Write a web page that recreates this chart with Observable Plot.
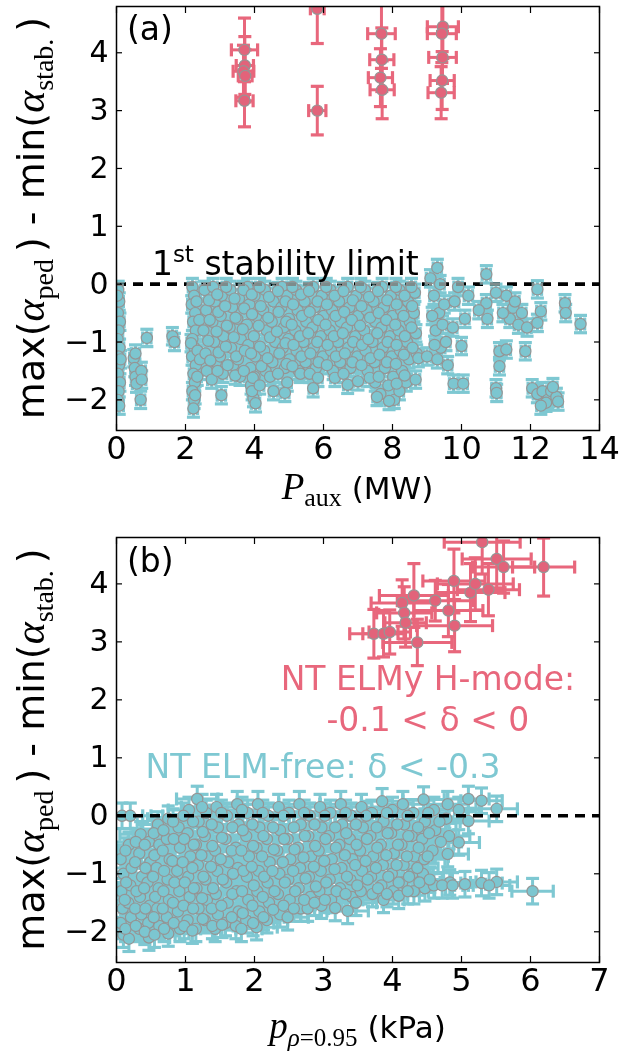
<!DOCTYPE html>
<html><head><meta charset="utf-8">
<script src="https://cdn.jsdelivr.net/npm/d3@7"></script>
<script src="https://cdn.jsdelivr.net/npm/@observablehq/plot@0.6"></script>
<style>body{margin:0;background:#fff;} #chart{width:621px;height:1055px;overflow:hidden;} #chart svg{display:block;}</style>
</head><body><div id="chart"></div>
<script>
// ---------- data ----------
const xTicksA = [0, 2, 4, 6, 8, 10, 12, 14];
const xTicksB = [0, 1, 2, 3, 4, 5, 6, 7];
const yTicks = [-2, -1, 0, 1, 2, 3, 4];

// Panel (a): NT ELMy H-mode (red)
const redAX = [3.71, 3.72, 3.68, 3.73, 3.71, 5.82, 5.82, 7.68, 7.69, 7.65, 7.70, 9.46, 9.43, 9.45, 9.44, 9.41];
const redAY = [4.05, 3.78, 3.68, 3.60, 3.17, 4.76, 3.00, 4.33, 3.88, 3.57, 3.36, 4.45, 4.33, 3.92, 3.52, 3.31];
const redAXErr = [0.38, 0.25, 0.30, 0.20, 0.25, 0.20, 0.25, 0.40, 0.35, 0.35, 0.35, 0.45, 0.42, 0.40, 0.35, 0.38];
const redAYErr = [0.55, 0.50, 0.45, 0.45, 0.45, 0.60, 0.42, 0.60, 0.55, 0.50, 0.50, 0.55, 0.50, 0.45, 0.50, 0.45];

// Panel (a): NT ELM-free (cyan), [Paux, value]
const cyanAStrip0 = [[0.05,-0.1],[0.08,-0.3],[0.04,-0.5],[0.1,-0.65],[0.06,-0.8],[0.03,-0.95],[0.09,-1.1],[0.05,-1.25],[0.07,-1.4],[0.04,-1.55],[0.1,-1.7],[0.06,-1.85],[0.03,-2.0],[0.08,-2.1],[0.12,-1.3],[0.02,-0.2]];
const cyanALowP = [[0.5,-1.28],[0.53,-1.45],[0.55,-1.6],[0.58,-1.72],[0.72,-1.5],[0.73,-1.65],[0.7,-2.0],[0.88,-0.93],[0.55,-1.2],[1.62,-0.9],[1.68,-1.0]];
const cyanAStrip2 = [[2.2,-0.05],[2.25,-0.2],[2.18,-0.35],[2.28,-0.5],[2.22,-0.65],[2.3,-0.8],[2.2,-0.95],[2.26,-1.1],[2.19,-1.25],[2.3,-1.4],[2.23,-1.55],[2.27,-1.7],[2.2,-1.85],[2.25,-2.0],[2.23,-2.15],[2.32,-0.3],[2.16,-1.02],[2.34,-1.6],[2.28,-1.92],[2.35,-1.15],[2.4,-0.62],[2.42,-1.3]];
const cyanAMain = [[2.55,-0.1],[2.6,-0.45],[2.52,-0.8],[2.58,-1.2],[2.62,-1.5],
[2.8,-0.05],[2.85,-0.3],[2.78,-0.65],[2.83,-1.0],[2.88,-1.35],[2.76,-1.65],
[3.05,-0.2],[3.02,-0.55],[3.1,-0.9],[3.0,-1.25],[3.08,-1.55],[3.04,-1.92],
[3.3,-0.1],[3.35,-0.4],[3.28,-0.75],[3.32,-1.1],[3.38,-1.4],
[3.55,-0.25],[3.5,-0.6],[3.6,-0.95],[3.52,-1.3],[3.58,-1.6],
[3.8,-0.05],[3.85,-0.35],[3.78,-0.7],[3.82,-1.05],[3.88,-1.45],[3.9,-1.75],
[4.0,-0.2],[4.05,-0.55],[3.98,-0.9],[4.02,-1.25],[4.0,-1.6],[3.97,-1.97],[4.03,-2.06],
[4.3,-0.1],[4.25,-0.45],[4.35,-0.8],[4.28,-1.15],[4.32,-1.5],
[4.55,-0.3],[4.5,-0.65],[4.6,-1.0],[4.52,-1.35],[4.55,-1.85],
[4.8,-0.05],[4.78,-0.4],[4.85,-0.75],[4.82,-1.1],[4.88,-1.45],
[4.95,-0.2],[5.0,-0.6],[4.98,-0.95],[5.02,-1.3],[4.95,-1.7],
[5.2,-0.1],[5.25,-0.45],[5.18,-0.8],[5.22,-1.15],[5.28,-1.5],
[5.45,-0.3],[5.5,-0.65],[5.42,-1.0],[5.48,-1.35],
[5.7,-0.05],[5.75,-0.4],[5.68,-0.75],[5.72,-1.1],[5.78,-1.45],[5.7,-1.8],
[5.95,-0.2],[6.0,-0.55],[5.92,-0.9],[5.98,-1.25],
[6.2,-0.1],[6.25,-0.45],[6.18,-0.8],[6.22,-1.15],[6.28,-1.5],
[6.45,-0.3],[6.5,-0.65],[6.42,-1.0],[6.48,-1.35],
[6.7,-0.05],[6.75,-0.4],[6.68,-0.75],[6.72,-1.1],[6.78,-1.45],[6.7,-1.74],
[6.95,-0.2],[7.0,-0.55],[6.92,-0.9],[6.98,-1.25],[7.0,-1.68],
[7.2,-0.1],[7.25,-0.45],[7.18,-0.8],[7.22,-1.15],[7.28,-1.5],
[7.45,-0.3],[7.5,-0.65],[7.42,-1.0],[7.48,-1.35],[7.5,-1.7],
[7.7,-0.05],[7.75,-0.4],[7.68,-0.75],[7.72,-1.1],[7.78,-1.45],[7.65,-1.9],
[7.95,-0.2],[8.0,-0.55],[7.92,-0.9],[7.98,-1.25],[8.02,-1.6],[8.05,-2.0],
[8.2,-0.1],[8.25,-0.45],[8.18,-0.8],[8.22,-1.15],[8.28,-1.5],[8.2,-1.85],
[8.45,-0.3],[8.5,-0.65],[8.42,-1.0],[8.48,-1.3],[8.4,-1.7],
[8.65,-0.15],[8.62,-0.5],[8.68,-0.85],[8.7,-1.2],[8.67,-1.65]];
const cyanAMain2 = [[2.68,-0.28],[2.7,-0.62],[2.66,-0.98],[2.72,-1.32],
[2.92,-0.18],[2.95,-0.48],[2.9,-0.82],[2.96,-1.18],[2.93,-1.5],
[3.18,-0.05],[3.15,-0.38],[3.2,-0.72],[3.17,-1.08],[3.22,-1.4],
[3.42,-0.25],[3.45,-0.58],[3.4,-0.92],[3.47,-1.25],[3.44,-1.58],
[3.68,-0.1],[3.7,-0.42],[3.66,-0.78],[3.72,-1.15],[3.69,-1.5],
[3.92,-0.18],[3.93,-0.52],[3.9,-1.2],[3.95,-1.62],[3.93,-1.85],
[4.15,-0.05],[4.18,-0.38],[4.12,-0.72],[4.16,-1.08],[4.2,-1.42],[4.15,-1.75],
[4.42,-0.22],[4.4,-0.58],[4.45,-0.92],[4.38,-1.28],[4.45,-1.6],
[4.68,-0.12],[4.7,-0.48],[4.65,-0.82],[4.72,-1.2],[4.68,-1.55],
[4.9,-0.3],[4.92,-0.65],[4.9,-1.02],[4.93,-1.38],[4.88,-1.88],
[5.1,-0.05],[5.12,-0.35],[5.08,-0.7],[5.13,-1.05],[5.1,-1.42],
[5.35,-0.18],[5.38,-0.55],[5.32,-0.9],[5.36,-1.25],[5.33,-1.55],
[5.58,-0.12],[5.6,-0.48],[5.56,-0.85],[5.62,-1.2],[5.6,-1.55],
[5.83,-0.3],[5.85,-0.62],[5.82,-1.0],[5.86,-1.35],[5.84,-1.62],
[6.08,-0.05],[6.1,-0.35],[6.06,-0.7],[6.12,-1.05],[6.1,-1.4],
[6.32,-0.2],[6.35,-0.55],[6.3,-0.9],[6.36,-1.25],[6.33,-1.62],
[6.58,-0.12],[6.6,-0.48],[6.56,-0.85],[6.62,-1.2],[6.58,-1.55],
[6.85,-0.28],[6.82,-0.62],[6.86,-1.0],[6.84,-1.35],
[7.08,-0.05],[7.1,-0.38],[7.06,-0.72],[7.12,-1.05],[7.1,-1.4],
[7.32,-0.22],[7.35,-0.58],[7.3,-0.95],[7.36,-1.28],[7.34,-1.62],
[7.58,-0.12],[7.6,-0.5],[7.56,-0.85],[7.62,-1.22],[7.6,-1.6],[7.55,-1.95],
[7.85,-0.28],[7.82,-0.62],[7.86,-1.0],[7.84,-1.35],[7.88,-1.75],[7.9,-2.02],
[8.1,-0.05],[8.12,-0.35],[8.08,-0.7],[8.12,-1.05],[8.1,-1.38],[8.12,-1.72],
[8.35,-0.2],[8.32,-0.55],[8.36,-0.9],[8.33,-1.22],[8.35,-1.58],
[8.55,-0.05],[8.57,-0.38],[8.55,-0.75],[8.58,-1.1]];
const cyanAHighP = [[8.75,-1.28],[9.0,-1.25],[9.1,0.1],[9.2,-0.2],[9.3,0.28],[9.35,-0.5],[9.25,-0.8],[9.4,-1.1],[9.5,-0.35],[9.45,-0.7],[9.55,-1.0],[9.6,-1.4],[9.15,-0.55],[9.3,-1.3],[9.38,0.0],[9.22,-1.05],
[9.77,-1.72],[10.05,-1.72],[10.0,-1.07],[9.8,-0.3],[10.1,-0.6],[9.9,-0.05],[10.2,-0.2],[9.75,-0.75],
[10.72,0.17],[10.72,-0.33],[10.75,-0.6],[10.5,-0.45],[11.1,-1.16],[11.1,-1.42],[11.3,-1.13],[11.0,-1.8],[11.02,-1.88],[11.3,-0.2],[11.5,-0.41],[11.4,-0.6],[11.65,-0.7],[11.55,-0.3],[11.2,-0.5],[11.85,-1.16],[11.75,-0.5],[11.9,-0.75],[11.0,-0.15],
[12.2,-0.09],[12.3,-0.47],[12.2,-0.67],[12.05,-1.8],[12.2,-1.9],[12.35,-1.85],[12.5,-2.0],[12.6,-1.85],[12.75,-1.95],[12.45,-2.05],[12.8,-2.03],[12.3,-2.1],[12.65,-1.78],
[13.0,-0.33],[13.02,-0.5],[13.45,-0.69]];
const cyanAErr = [0.12, 0.15]; // [x error (MW), y error]

// Panel (b): NT ELMy H-mode (red)
const redBX = [3.73, 3.87, 3.96, 4.14, 4.17, 4.19, 4.31, 4.36, 4.62, 4.81, 4.89, 4.90, 5.13, 5.20, 5.30, 5.39, 5.51, 5.61, 6.19];
const redBY = [3.14, 3.14, 3.17, 3.67, 3.50, 3.33, 3.80, 2.99, 3.71, 3.54, 4.05, 3.28, 3.85, 4.00, 4.72, 3.90, 4.43, 4.29, 4.29];
const redBXErr = [0.35, 0.30, 0.30, 0.45, 0.40, 0.30, 0.50, 0.50, 0.55, 0.50, 0.45, 0.55, 0.50, 0.55, 0.55, 0.45, 0.50, 0.45, 0.45];
const redBYErr = [0.42, 0.40, 0.38, 0.40, 0.45, 0.42, 0.55, 0.40, 0.35, 0.45, 0.55, 0.45, 0.50, 0.45, 0.55, 0.45, 0.50, 0.45, 0.50];

// Panel (b): NT ELM-free (cyan), [p, value]
const cyanBCore = [[0.08,0.0],[0.06,-0.75],[0.1,-1.0],[0.07,-1.3],[0.09,-1.6],[0.06,-1.85],[0.1,-2.05],
[0.2,0.0],[0.18,-0.5],[0.22,-0.9],[0.2,-1.2],[0.17,-1.5],[0.21,-1.75],[0.18,-2.12],
[0.35,-0.32],[0.33,-0.65],[0.37,-1.05],[0.34,-1.4],[0.36,-1.7],[0.33,-1.95],
[0.47,-0.45],[0.49,-0.8],[0.45,-1.15],[0.48,-1.55],[0.46,-1.85],[0.47,-2.1],
[0.6,-0.15],[0.62,-0.5],[0.58,-0.9],[0.61,-1.25],[0.59,-1.6],[0.62,-1.9],
[0.75,-0.05],[0.73,-0.4],[0.77,-0.75],[0.74,-1.1],[0.76,-1.45],[0.73,-1.75],[0.75,-2.03],
[0.9,-0.2],[0.92,-0.55],[0.88,-0.95],[0.91,-1.3],[0.89,-1.65],[0.92,-1.95],
[1.05,0.1],[1.03,-0.3],[1.07,-0.7],[1.04,-1.05],[1.06,-1.4],[1.03,-1.8],
[1.17,0.29],[1.19,-0.1],[1.15,-0.5],[1.18,-0.85],[1.16,-1.25],[1.19,-1.6],[1.15,-1.95],
[1.3,0.05],[1.28,-0.35],[1.32,-0.7],[1.29,-1.1],[1.31,-1.45],[1.28,-1.8],
[1.45,0.15],[1.47,-0.2],[1.43,-0.6],[1.46,-0.95],[1.44,-1.35],[1.47,-1.7],[1.43,-1.95],
[1.6,0.0],[1.58,-0.4],[1.62,-0.8],[1.59,-1.15],[1.61,-1.5],[1.58,-1.85],
[1.75,0.2],[1.77,-0.15],[1.73,-0.55],[1.76,-0.9],[1.74,-1.3],[1.77,-1.65],[1.73,-1.9],
[1.9,0.05],[1.88,-0.35],[1.92,-0.7],[1.89,-1.05],[1.91,-1.45],[1.88,-1.8],
[2.05,0.2],[2.07,-0.2],[2.03,-0.55],[2.06,-0.95],[2.04,-1.3],[2.07,-1.65],[2.03,-1.92],
[2.2,0.0],[2.18,-0.4],[2.22,-0.8],[2.19,-1.15],[2.21,-1.5],[2.18,-1.8],
[2.35,0.15],[2.37,-0.25],[2.33,-0.6],[2.36,-1.0],[2.34,-1.35],[2.37,-1.7],
[2.5,0.05],[2.48,-0.4],[2.52,-0.75],[2.49,-1.1],[2.51,-1.45],[2.48,-1.75],
[2.65,0.2],[2.67,-0.15],[2.63,-0.55],[2.66,-0.9],[2.64,-1.25],[2.67,-1.6],
[2.8,0.0],[2.78,-0.35],[2.82,-0.7],[2.79,-1.05],[2.81,-1.4],[2.77,-1.6],
[2.95,0.15],[2.97,-0.2],[2.93,-0.6],[2.96,-0.95],[2.94,-1.3],[2.97,-1.55],
[3.1,0.05],[3.08,-0.35],[3.12,-0.75],[3.09,-1.1],[3.11,-1.45],
[3.25,0.2],[3.27,-0.15],[3.23,-0.5],[3.26,-0.9],[3.24,-1.25],[3.17,-1.59],
[3.4,0.0],[3.38,-0.4],[3.42,-0.75],[3.39,-1.1],[3.41,-1.4],[3.35,-1.64],
[3.55,0.15],[3.57,-0.2],[3.53,-0.6],[3.56,-0.95],[3.54,-1.3],
[3.7,0.05],[3.68,-0.35],[3.72,-0.7],[3.69,-1.05],[3.71,-1.35],
[3.85,0.25],[3.87,-0.1],[3.83,-0.5],[3.86,-0.85],[3.84,-1.2],[3.87,-1.45],
[4.0,0.1],[3.98,-0.3],[4.02,-0.65],[3.99,-1.0],[4.01,-1.3],
[4.15,0.2],[4.17,-0.15],[4.13,-0.5],[4.16,-0.85],[4.14,-1.15],[4.09,-1.38],
[4.3,0.05],[4.28,-0.35],[4.32,-0.7],[4.29,-1.0],[4.31,-1.3],
[4.45,0.28],[4.47,-0.1],[4.43,-0.4],[4.46,-0.75],[4.44,-1.0],[4.47,-1.25],
[4.6,0.1],[4.62,-0.25],[4.58,-0.6],[4.6,-1.2],
[4.8,0.2],[4.78,-0.05],[4.82,-0.35],[4.8,-0.66],[4.83,-1.15]];
const cyanBFill = [[0.13,-0.6],[0.14,-1.15],[0.12,-1.45],[0.13,-1.95],
[0.28,-0.45],[0.27,-0.8],[0.29,-1.3],[0.27,-1.6],[0.28,-1.9],
[0.41,-0.5],[0.42,-0.9],[0.4,-1.25],[0.42,-1.6],[0.41,-2.0],
[0.54,-0.3],[0.55,-0.68],[0.53,-1.05],[0.56,-1.4],[0.54,-1.75],[0.55,-2.05],
[0.68,-0.25],[0.67,-0.6],[0.69,-0.95],[0.68,-1.3],[0.67,-1.6],[0.69,-1.95],
[0.82,-0.1],[0.83,-0.4],[0.81,-0.78],[0.84,-1.15],[0.82,-1.5],[0.83,-1.85],
[0.97,0.0],[0.98,-0.4],[0.96,-0.8],[0.99,-1.15],[0.97,-1.55],[0.98,-1.9],
[1.11,-0.1],[1.12,-0.5],[1.1,-0.9],[1.12,-1.25],[1.11,-1.6],[1.1,-1.98],
[1.24,0.15],[1.25,-0.28],[1.23,-0.68],[1.26,-1.05],[1.24,-1.42],[1.25,-1.78],
[1.38,-0.15],[1.39,-0.52],[1.37,-0.88],[1.4,-1.25],[1.38,-1.6],[1.39,-1.9],
[1.52,0.05],[1.53,-0.38],[1.51,-0.75],[1.54,-1.1],[1.52,-1.55],[1.53,-1.88],
[1.68,-0.2],[1.67,-0.6],[1.69,-1.0],[1.68,-1.35],[1.67,-1.75],
[1.82,0.1],[1.83,-0.25],[1.81,-0.6],[1.84,-0.95],[1.82,-1.3],[1.83,-1.68],[1.81,-1.95],
[1.97,-0.15],[1.98,-0.52],[1.96,-0.88],[1.99,-1.2],[1.97,-1.55],[1.98,-1.85],
[2.12,0.05],[2.13,-0.35],[2.11,-0.7],[2.14,-1.05],[2.12,-1.4],[2.13,-1.75],
[2.27,-0.2],[2.28,-0.58],[2.26,-0.95],[2.29,-1.3],[2.27,-1.62],
[2.42,0.0],[2.43,-0.4],[2.41,-0.8],[2.44,-1.15],[2.42,-1.55],
[2.57,-0.2],[2.58,-0.58],[2.56,-0.95],[2.59,-1.3],[2.57,-1.6],
[2.72,0.05],[2.73,-0.35],[2.71,-0.72],[2.74,-1.08],[2.72,-1.45],
[2.87,-0.15],[2.88,-0.52],[2.86,-0.88],[2.89,-1.22],[2.87,-1.5],
[3.02,0.0],[3.03,-0.4],[3.01,-0.78],[3.04,-1.15],[3.02,-1.45],
[3.17,-0.2],[3.18,-0.55],[3.16,-0.92],[3.19,-1.3],
[3.32,0.05],[3.33,-0.3],[3.31,-0.68],[3.34,-1.05],[3.32,-1.35],
[3.47,-0.15],[3.48,-0.5],[3.46,-0.85],[3.49,-1.2],[3.47,-1.5],
[3.62,0.0],[3.63,-0.4],[3.61,-0.78],[3.64,-1.1],
[3.77,-0.2],[3.78,-0.55],[3.76,-0.9],[3.79,-1.25],
[3.92,0.05],[3.93,-0.3],[3.91,-0.68],[3.94,-1.05],[3.92,-1.35],
[4.07,-0.15],[4.08,-0.5],[4.06,-0.85],[4.09,-1.15],
[4.22,0.0],[4.23,-0.35],[4.21,-0.7],[4.24,-1.05],[4.22,-1.3],
[4.37,-0.2],[4.38,-0.55],[4.36,-0.9],[4.39,-1.15],
[4.52,0.05],[4.53,-0.3],[4.51,-0.7],[4.54,-1.1],
[4.68,-0.1],[4.7,-0.45],[4.72,-1.2]];
const cyanBEdge = [[4.96,0.1],[4.96,-0.46],[4.87,-1.2],[5.1,0.29],[5.1,-0.09],[5.05,-1.18],[5.29,0.26],[5.29,-1.16],[5.51,0.12],[5.51,-1.14],[5.4,-1.2],[6.03,-1.3]];
const cyanBErr = [0.3, 0.22]; // [x error (kPa), y error]

// ---------- styling ----------
const RED = "#e8677c", RED_DOT = "#e2637a", CYAN = "#7ec8d2", CYAN_DOT = "#7cc6d0", EDGE = "#959595";
const yDomain = [-2.53, 4.8];
const minus = d => d < 0 ? "\u2212" + Math.abs(d) : String(d);

const hcap = {draw(c) { c.moveTo(-6.5, 0); c.lineTo(6.5, 0); }};
const vcap = {draw(c) { c.moveTo(0, -6.5); c.lineTo(0, 6.5); }};

const pairsToRows = (pairs, [ex, ey]) => pairs.map(([x, y]) => ({x, y, ex, ey}));
const colsToRows = (X, Y, EX, EY) => X.map((x, i) => ({x, y: Y[i], ex: EX[i], ey: EY[i]}));

function errorMarks(rows, color) {
  const common = {stroke: color, clip: true};
  return [
    Plot.ruleX(rows, {x: "x", y1: d => d.y - d.ey, y2: d => d.y + d.ey, strokeWidth: 3, ...common}),
    Plot.ruleY(rows, {y: "y", x1: d => d.x - d.ex, x2: d => d.x + d.ex, strokeWidth: 3, ...common}),
    Plot.dot(rows, {x: "x", y: d => d.y - d.ey, symbol: hcap, fill: "none", strokeWidth: 3.2, ...common}),
    Plot.dot(rows, {x: "x", y: d => d.y + d.ey, symbol: hcap, fill: "none", strokeWidth: 3.2, ...common}),
    Plot.dot(rows, {x: d => d.x - d.ex, y: "y", symbol: vcap, fill: "none", strokeWidth: 3.2, ...common}),
    Plot.dot(rows, {x: d => d.x + d.ex, y: "y", symbol: vcap, fill: "none", strokeWidth: 3.2, ...common})
  ];
}
function pointMarks(rows, fill) {
  return Plot.dot(rows, {x: "x", y: "y", r: 5.6, fill, stroke: EDGE, strokeWidth: 1.2, clip: true});
}
function axisMarks(xTicks) {
  return [
    Plot.axisX(xTicks, {anchor: "bottom", tickSize: -6, tickPadding: 12, tickFormat: minus, fontSize: 32, strokeWidth: 1.2, label: null}),
    Plot.axisX(xTicks, {anchor: "top", tickSize: -6, tickFormat: () => "", strokeWidth: 1.2, label: null}),
    Plot.axisY(yTicks, {anchor: "left", tickSize: -6, tickPadding: 14, tickFormat: minus, fontSize: 30, strokeWidth: 1.2, label: null}),
    Plot.axisY(yTicks, {anchor: "right", tickSize: -6, tickFormat: () => "", strokeWidth: 1.2, label: null}),
    Plot.frame({stroke: "black", strokeWidth: 1.5})
  ];
}
function basePlot(xDomain, height, marginTop, marginBottom, marks) {
  return Plot.plot({
    width: 621, height, marginLeft: 116, marginRight: 22, marginTop, marginBottom,
    x: {domain: xDomain, label: null},
    y: {domain: yDomain, label: null},
    style: {fontFamily: "DejaVu Sans", fontSize: "30px", color: "black", background: "white", overflow: "visible"},
    marks
  });
}
function yLabel(svg, cy) {
  const t = d3.select(svg).append("text")
    .attr("transform", `translate(44,${cy}) rotate(-90)`)
    .attr("text-anchor", "middle").attr("fill", "black")
    .style("font-family", "DejaVu Sans").style("font-size", "38px");
  const serif = s => s.style("font-family", "Liberation Serif");
  t.append("tspan").text("max(");
  serif(t.append("tspan").text("\u03b1")).style("font-style", "italic").style("font-size", "42px");
  serif(t.append("tspan").text("ped ")).attr("dy", 9).style("font-size", "28px");
  t.append("tspan").text(") - min(").attr("dy", -9);
  serif(t.append("tspan").text("\u03b1")).style("font-style", "italic").style("font-size", "42px");
  serif(t.append("tspan").text("stab. ")).attr("dy", 9).style("font-size", "28px");
  t.append("tspan").text(")").attr("dy", -9);
}
function panelTag(svg, label) {
  d3.select(svg).append("text").attr("x", 127).attr("y", 40).attr("text-anchor", "start")
    .style("font-family", "DejaVu Sans").style("font-size", "33px").text(label);
}

const chart = document.getElementById("chart");

// ---------- panel (a) ----------
const cyanARows = [cyanAStrip0, cyanALowP, cyanAStrip2, cyanAMain, cyanAMain2, cyanAHighP].flatMap(p => pairsToRows(p, cyanAErr));
const redARows = colsToRows(redAX, redAY, redAXErr, redAYErr);
const svgA = basePlot([0, 14], 532, 6, 102, [
  Plot.ruleY([0], {stroke: "black", strokeWidth: 3.6, strokeDasharray: "10,7"}),
  ...errorMarks(cyanARows, CYAN),
  pointMarks(cyanARows, CYAN_DOT),
  Plot.ruleY([0], {stroke: "#8c8c8c", strokeWidth: 3.6, strokeDasharray: "10,7", mixBlendMode: "darken"}),
  ...errorMarks(redARows, RED),
  pointMarks(redARows, RED_DOT),
  ...axisMarks(xTicksA)
]);
chart.appendChild(svgA);
{
  const sx = svgA.scale("x"), sy = svgA.scale("y");
  yLabel(svgA, 218);
  panelTag(svgA, "(a)");
  const t = d3.select(svgA).append("text").attr("x", sx.apply(1.04)).attr("y", sy.apply(0.15))
    .attr("text-anchor", "start")
    .style("font-family", "DejaVu Sans").style("font-size", "33px").attr("fill", "black");
  t.append("tspan").text("1");
  t.append("tspan").text("st").attr("dy", -13).style("font-size", "23px");
  t.append("tspan").text(" stability limit").attr("dy", 13);
  const xl = d3.select(svgA).append("text").attr("x", (116 + 599) / 2).attr("y", 499)
    .attr("text-anchor", "middle").style("font-family", "DejaVu Sans").style("font-size", "31px");
  xl.append("tspan").text("P").style("font-family", "Liberation Serif").style("font-style", "italic").style("font-size", "37px");
  xl.append("tspan").text("aux").attr("dy", 7).style("font-family", "Liberation Serif").style("font-size", "26px");
  xl.append("tspan").text(" (MW)").attr("dy", -7);
}

// ---------- panel (b) ----------
const cyanBRows = [cyanBCore, cyanBFill, cyanBEdge].flatMap(p => pairsToRows(p, cyanBErr));
const redBRows = colsToRows(redBX, redBY, redBXErr, redBYErr);
const svgB = basePlot([0, 7], 523, 5, 93, [
  ...errorMarks(cyanBRows, CYAN),
  pointMarks(cyanBRows, CYAN_DOT),
  ...errorMarks(redBRows, RED),
  pointMarks(redBRows, RED_DOT),
  Plot.ruleY([0], {stroke: "black", strokeWidth: 3.6, strokeDasharray: "10,7"}),
  ...axisMarks(xTicksB)
]);
chart.appendChild(svgB);
{
  const sx = svgB.scale("x"), sy = svgB.scale("y");
  yLabel(svgB, 217.5);
  panelTag(svgB, "(b)");
  const g = d3.select(svgB);
  g.append("text").attr("x", sx.apply(4.52)).attr("y", sy.apply(2.16)).attr("text-anchor", "middle")
    .attr("fill", RED).style("font-family", "DejaVu Sans").style("font-size", "33px").text("NT ELMy H-mode:");
  g.append("text").attr("x", sx.apply(4.52)).attr("y", sy.apply(1.45)).attr("text-anchor", "middle")
    .attr("fill", RED).style("font-family", "DejaVu Sans").style("font-size", "33px").text("-0.1 < \u03b4 < 0");
  g.append("text").attr("x", sx.apply(3.0)).attr("y", sy.apply(0.64)).attr("text-anchor", "middle")
    .attr("fill", CYAN).style("font-family", "DejaVu Sans").style("font-size", "33px").text("NT ELM-free: \u03b4 < -0.3");
  const xl = g.append("text").attr("x", (116 + 599) / 2).attr("y", 506)
    .attr("text-anchor", "middle").style("font-family", "DejaVu Sans").style("font-size", "31px");
  xl.append("tspan").text("p").style("font-family", "Liberation Serif").style("font-style", "italic").style("font-size", "37px");
  xl.append("tspan").text("\u03c1").attr("dy", 8).style("font-family", "Liberation Serif").style("font-style", "italic").style("font-size", "25px");
  xl.append("tspan").text("=0.95").style("font-family", "Liberation Serif").style("font-size", "25px");
  xl.append("tspan").text(" (kPa)").attr("dy", -8);
}
</script></body></html>
